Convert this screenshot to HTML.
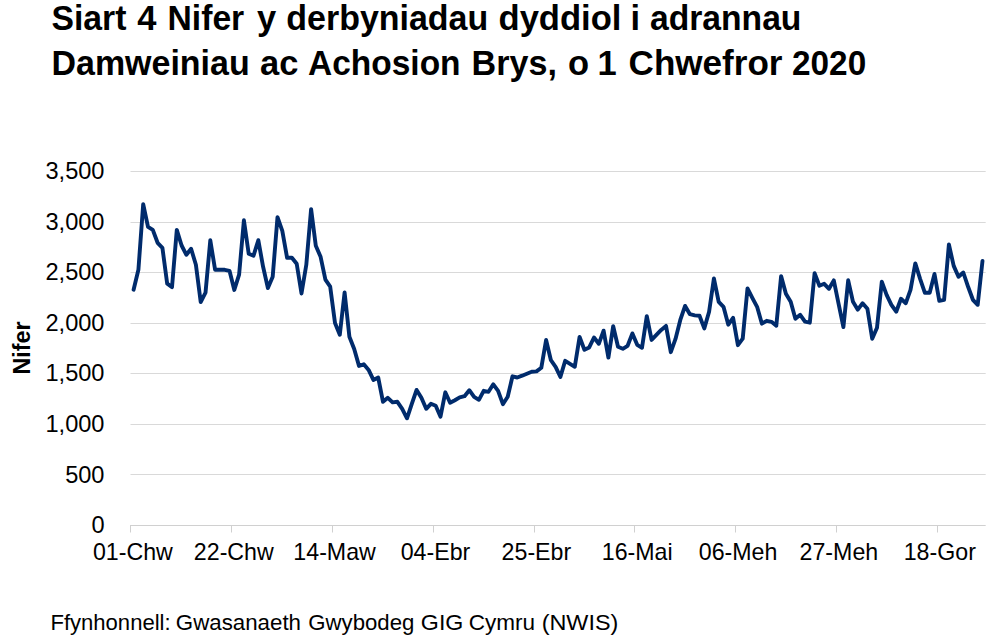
<!DOCTYPE html>
<html><head><meta charset="utf-8"><style>
html,body{margin:0;padding:0;background:#fff;}
body{width:1004px;height:642px;overflow:hidden;font-family:"Liberation Sans",sans-serif;}
svg{display:block;font-family:"Liberation Sans",sans-serif;}
.t{font-size:34.5px;font-weight:bold;fill:#000;}
.a{font-size:23.6px;fill:#000;}
.s{font-size:22.8px;fill:#000;}
.y{font-size:23.3px;font-weight:bold;fill:#000;}
</style></head><body>
<svg width="1004" height="642" viewBox="0 0 1004 642">
<rect width="1004" height="642" fill="#fff"/>
<g class="t"><text x="51.42" y="29.5" textLength="74.99" lengthAdjust="spacingAndGlyphs">Siart</text><text x="137.20" y="29.5" textLength="19.19" lengthAdjust="spacingAndGlyphs">4</text><text x="167.55" y="29.5" textLength="76.67" lengthAdjust="spacingAndGlyphs">Nifer</text><text x="257.05" y="29.5" textLength="19.19" lengthAdjust="spacingAndGlyphs">y</text><text x="286.32" y="29.5" textLength="201.91" lengthAdjust="spacingAndGlyphs">derbyniadau</text><text x="498.50" y="29.5" textLength="122.96" lengthAdjust="spacingAndGlyphs">dyddiol</text><text x="630.40" y="29.5" textLength="9.59" lengthAdjust="spacingAndGlyphs">i</text><text x="649.92" y="29.5" textLength="151.54" lengthAdjust="spacingAndGlyphs">adrannau</text><text x="51.53" y="74.5" textLength="198.16" lengthAdjust="spacingAndGlyphs">Damweiniau</text><text x="260.00" y="74.5" textLength="38.38" lengthAdjust="spacingAndGlyphs">ac</text><text x="308.03" y="74.5" textLength="152.51" lengthAdjust="spacingAndGlyphs">Achosion</text><text x="471.62" y="74.5" textLength="85.27" lengthAdjust="spacingAndGlyphs">Brys,</text><text x="568.10" y="74.5" textLength="21.08" lengthAdjust="spacingAndGlyphs">o</text><text x="597.50" y="74.5" textLength="19.19" lengthAdjust="spacingAndGlyphs">1</text><text x="628.58" y="74.5" textLength="153.94" lengthAdjust="spacingAndGlyphs">Chwefror</text><text x="792.03" y="74.5" textLength="74.19" lengthAdjust="spacingAndGlyphs">2020</text></g>
<line x1="130.5" x2="985.7" y1="474.5" y2="474.5" stroke="#d9d9d9" stroke-width="1"/><line x1="130.5" x2="985.7" y1="424.5" y2="424.5" stroke="#d9d9d9" stroke-width="1"/><line x1="130.5" x2="985.7" y1="373.5" y2="373.5" stroke="#d9d9d9" stroke-width="1"/><line x1="130.5" x2="985.7" y1="323.5" y2="323.5" stroke="#d9d9d9" stroke-width="1"/><line x1="130.5" x2="985.7" y1="272.5" y2="272.5" stroke="#d9d9d9" stroke-width="1"/><line x1="130.5" x2="985.7" y1="222.5" y2="222.5" stroke="#d9d9d9" stroke-width="1"/><line x1="130.5" x2="985.7" y1="171.5" y2="171.5" stroke="#d9d9d9" stroke-width="1"/>
<line x1="130" x2="985.7" y1="525.5" y2="525.5" stroke="#d0d0d0" stroke-width="1"/>
<line x1="130.5" x2="130.5" y1="525" y2="532.5" stroke="#d0d0d0" stroke-width="1"/><line x1="231.5" x2="231.5" y1="525" y2="532.5" stroke="#d0d0d0" stroke-width="1"/><line x1="332.5" x2="332.5" y1="525" y2="532.5" stroke="#d0d0d0" stroke-width="1"/><line x1="433.5" x2="433.5" y1="525" y2="532.5" stroke="#d0d0d0" stroke-width="1"/><line x1="534.5" x2="534.5" y1="525" y2="532.5" stroke="#d0d0d0" stroke-width="1"/><line x1="634.5" x2="634.5" y1="525" y2="532.5" stroke="#d0d0d0" stroke-width="1"/><line x1="735.5" x2="735.5" y1="525" y2="532.5" stroke="#d0d0d0" stroke-width="1"/><line x1="836.5" x2="836.5" y1="525" y2="532.5" stroke="#d0d0d0" stroke-width="1"/><line x1="937.5" x2="937.5" y1="525" y2="532.5" stroke="#d0d0d0" stroke-width="1"/>
<g class="a"><text x="104.5" y="533.1" text-anchor="end">0</text><text x="104.5" y="482.5" text-anchor="end">500</text><text x="104.5" y="432.0" text-anchor="end">1,000</text><text x="104.5" y="381.4" text-anchor="end">1,500</text><text x="104.5" y="330.8" text-anchor="end">2,000</text><text x="104.5" y="280.2" text-anchor="end">2,500</text><text x="104.5" y="229.7" text-anchor="end">3,000</text><text x="104.5" y="179.1" text-anchor="end">3,500</text><text x="132.9" y="560.3" text-anchor="middle" style="font-size:23.2px">01-Chw</text><text x="233.8" y="560.3" text-anchor="middle" style="font-size:23.2px">22-Chw</text><text x="334.6" y="560.3" text-anchor="middle" style="font-size:23.2px">14-Maw</text><text x="435.5" y="560.3" text-anchor="middle" style="font-size:23.2px">04-Ebr</text><text x="536.4" y="560.3" text-anchor="middle" style="font-size:23.2px">25-Ebr</text><text x="637.2" y="560.3" text-anchor="middle" style="font-size:23.2px">16-Mai</text><text x="738.1" y="560.3" text-anchor="middle" style="font-size:23.2px">06-Meh</text><text x="838.9" y="560.3" text-anchor="middle" style="font-size:23.2px">27-Meh</text><text x="939.8" y="560.3" text-anchor="middle" style="font-size:23.2px">18-Gor</text></g>
<text class="y" transform="translate(29.8,348) rotate(-90)" text-anchor="middle">Nifer</text>
<path d="M133.6 289.7 L138.4 269.8 L143.2 204.2 L148.0 226.9 L152.8 229.9 L157.6 242.8 L162.4 247.8 L167.2 283.7 L172.0 287.1 L176.8 229.9 L181.6 245.5 L186.4 254.8 L191.1 248.8 L195.9 264.8 L200.7 302.1 L205.5 292.7 L210.3 240.3 L215.1 269.8 L219.9 269.8 L224.7 269.8 L229.5 270.8 L234.3 289.9 L239.1 274.7 L243.9 220.3 L248.7 253.8 L253.5 255.8 L258.3 240.2 L263.1 266.8 L267.9 288.1 L272.7 276.7 L277.5 217.1 L282.3 230.9 L287.1 257.8 L291.9 257.8 L296.7 263.8 L301.5 293.5 L306.3 264.8 L311.1 209.1 L315.8 245.8 L320.6 256.8 L325.4 279.7 L330.2 286.7 L335.0 322.9 L339.8 334.8 L344.6 292.4 L349.4 336.8 L354.2 349.0 L359.0 365.9 L363.8 364.3 L368.6 369.9 L373.4 379.9 L378.2 377.5 L383.0 401.8 L387.8 397.8 L392.6 402.4 L397.4 401.8 L402.2 408.8 L407.0 418.3 L411.8 403.8 L416.6 389.9 L421.4 397.8 L426.2 408.8 L430.9 403.8 L435.7 405.8 L440.5 416.7 L445.3 392.3 L450.1 402.8 L454.9 400.2 L459.7 397.4 L464.5 396.2 L469.3 390.2 L474.1 396.8 L478.9 399.8 L483.7 390.8 L488.5 391.8 L493.3 384.3 L498.1 390.8 L502.9 404.2 L507.7 396.8 L512.5 376.3 L517.3 377.5 L522.1 375.7 L526.9 373.7 L531.7 371.8 L536.5 371.4 L541.3 367.8 L546.1 340.0 L550.9 360.2 L555.6 366.8 L560.4 376.9 L565.2 360.8 L570.0 363.8 L574.8 366.8 L579.6 336.9 L584.4 349.8 L589.2 347.4 L594.0 337.5 L598.8 343.8 L603.6 330.7 L608.4 357.6 L613.2 326.1 L618.0 346.8 L622.8 348.8 L627.6 345.8 L632.4 333.4 L637.2 344.8 L642.0 347.8 L646.8 316.1 L651.6 339.9 L656.4 334.9 L661.2 329.9 L666.0 325.9 L670.8 352.2 L675.5 338.9 L680.3 319.9 L685.1 305.9 L689.9 314.2 L694.7 315.4 L699.5 315.8 L704.3 328.4 L709.1 311.8 L713.9 278.5 L718.7 301.8 L723.5 306.8 L728.3 324.7 L733.1 317.8 L737.9 345.2 L742.7 338.7 L747.5 288.4 L752.3 297.8 L757.1 306.8 L761.9 323.7 L766.7 320.8 L771.5 321.8 L776.3 325.7 L781.1 276.1 L785.9 293.8 L790.7 301.8 L795.4 318.8 L800.2 314.8 L805.0 321.7 L809.8 322.7 L814.6 273.1 L819.4 285.8 L824.2 283.8 L829.0 288.8 L833.8 280.4 L838.6 303.8 L843.4 327.1 L848.2 280.3 L853.0 301.8 L857.8 309.7 L862.6 303.2 L867.4 308.7 L872.2 338.8 L877.0 327.7 L881.8 281.6 L886.6 294.8 L891.4 304.8 L896.2 311.7 L901.0 298.8 L905.8 303.2 L910.5 289.8 L915.3 263.4 L920.1 278.8 L924.9 292.8 L929.7 292.8 L934.5 274.0 L939.3 300.8 L944.1 299.8 L948.9 244.5 L953.7 265.9 L958.5 276.8 L963.3 272.5 L968.1 286.8 L972.9 299.8 L977.7 304.8 L982.5 260.9" fill="none" stroke="#002b6c" stroke-width="3.9" stroke-linejoin="round" stroke-linecap="round"/>
<g class="s"><text x="50.43" y="629.6" textLength="120.20" lengthAdjust="spacingAndGlyphs">Ffynhonnell:</text><text x="175.82" y="629.6" textLength="125.16" lengthAdjust="spacingAndGlyphs">Gwasanaeth</text><text x="308.33" y="629.6" textLength="106.05" lengthAdjust="spacingAndGlyphs">Gwybodeg</text><text x="420.88" y="629.6" textLength="42.54" lengthAdjust="spacingAndGlyphs">GIG</text><text x="468.71" y="629.6" textLength="66.40" lengthAdjust="spacingAndGlyphs">Cymru</text><text x="541.67" y="629.6" textLength="76.65" lengthAdjust="spacingAndGlyphs">(NWIS)</text></g>
</svg>
</body></html>
